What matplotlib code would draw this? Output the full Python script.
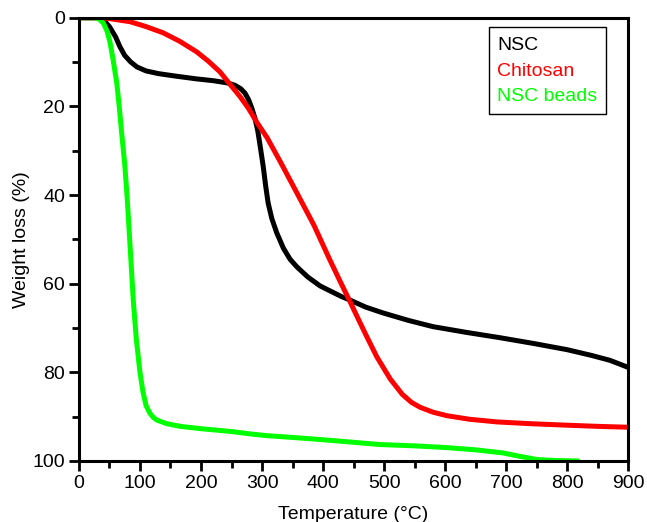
import matplotlib
matplotlib.use("Agg")
from matplotlib import pyplot as plt

plt.rcParams['font.family'] = ['Liberation Sans', 'DejaVu Sans']

# NSC (black)
nsc_t = [0, 30, 40, 50, 60, 67, 75, 85, 95, 110, 130, 160, 193, 220, 243, 255, 265, 272, 278, 283,
         288, 293, 297, 302, 306, 310, 316, 324, 335, 346, 357, 375, 395, 411, 430, 444, 470, 498,
         540, 580, 635, 690, 745, 800, 840, 870, 900]
nsc_w = [0, 0, 0.5, 2, 4.3, 6.5, 8.5, 10, 11.1, 12, 12.6, 13.2, 13.8, 14.2, 14.7, 15.2, 16, 17, 18.5, 20.3,
         22.5, 25.5, 29, 33.6, 38, 41.8, 45.3, 48.5, 52, 54.5, 56.2, 58.5, 60.5, 61.6, 62.9, 63.7, 65.3, 66.6,
         68.3, 69.7, 71, 72.2, 73.5, 74.9, 76.2, 77.3, 78.9]

# Chitosan (red)
chi_t = [0, 30, 50, 84, 110, 138, 165, 193, 212, 231, 248, 264, 278, 292, 308, 330, 357, 385, 411, 428,
         444, 456, 470, 488, 510, 530, 545, 559, 580, 603, 640, 685, 740, 793, 850, 900]
chi_w = [0, 0, 0.2, 0.9, 2, 3.4, 5.3, 7.7, 9.8, 12.2, 15.1, 17.8, 20.5, 23.7, 27, 32.5, 39.5, 46.8, 54.6, 59.5,
         64, 67.5, 71.5, 76.5, 81.5, 85, 86.8, 87.9, 89, 89.8, 90.6, 91.2, 91.6, 91.9, 92.2, 92.4]

# NSC beads (green)
bead_t = [0, 25, 33, 40, 46, 51, 56, 62, 66, 70, 75, 79, 84, 89, 94, 100, 105, 110, 116, 122, 128, 144,
          166, 198, 252, 280, 308, 360, 407, 450, 493, 550, 603, 650, 695, 720, 751, 780, 816]
bead_w = [0, 0, 0.3, 1.2, 3, 5.6, 9.5, 14.7, 20, 26, 33, 40.5, 52, 63.7, 72.5, 80, 84.5, 87.5, 89.2, 90.2, 90.8, 91.6,
          92.2, 92.7, 93.4, 93.9, 94.3, 94.8, 95.3, 95.8, 96.3, 96.6, 97, 97.5, 98.2, 98.9, 99.7, 99.9, 100]

xticks = [0, 100, 200, 300, 400, 500, 600, 700, 800, 900]
yticks = [0, 20, 40, 60, 80, 100]

fig = plt.figure(figsize=(6.47, 5.22), dpi=100)
ax = fig.add_axes([0.122, 0.117, 0.849, 0.849])

lw = 3.6
ax.plot(nsc_t, nsc_w, color='black', lw=lw, solid_joinstyle='round', label='NSC')
ax.plot(chi_t, chi_w, color='#ff0000', lw=lw, solid_joinstyle='round', label='Chitosan')
ax.plot(bead_t, bead_w, color='#00ff00', lw=lw, solid_joinstyle='round', label='NSC beads')

ax.set_xlim(0, 900)
ax.set_ylim(100, 0)
ax.set_xticks(xticks)
ax.set_yticks(yticks)
ax.set_xticks(range(50, 900, 100), minor=True)
ax.set_yticks(range(10, 100, 20), minor=True)
ax.tick_params(which='major', direction='out', length=7, width=2, labelsize=14, pad=3)
ax.tick_params(which='minor', direction='out', length=5, width=2)
for s in ax.spines.values():
    s.set_linewidth(2.2)

ax.set_xlabel('Temperature (°C)', fontsize=14, labelpad=10)
ax.set_ylabel('Weight loss (%)', fontsize=14, labelpad=2)

leg = ax.legend(loc='upper right', bbox_to_anchor=(0.96, 0.978), borderaxespad=0,
                handlelength=0, handletextpad=0, fontsize=14, fancybox=False, framealpha=1,
                borderpad=0.45, labelspacing=0.42)
leg.get_frame().set_edgecolor('black')
leg.get_frame().set_linewidth(1)
for h in leg.legend_handles:
    h.set_visible(False)
for txt, c in zip(leg.get_texts(), ['black', '#ff0000', '#00ff00']):
    txt.set_color(c)

fig.savefig('out.png', dpi=100)
